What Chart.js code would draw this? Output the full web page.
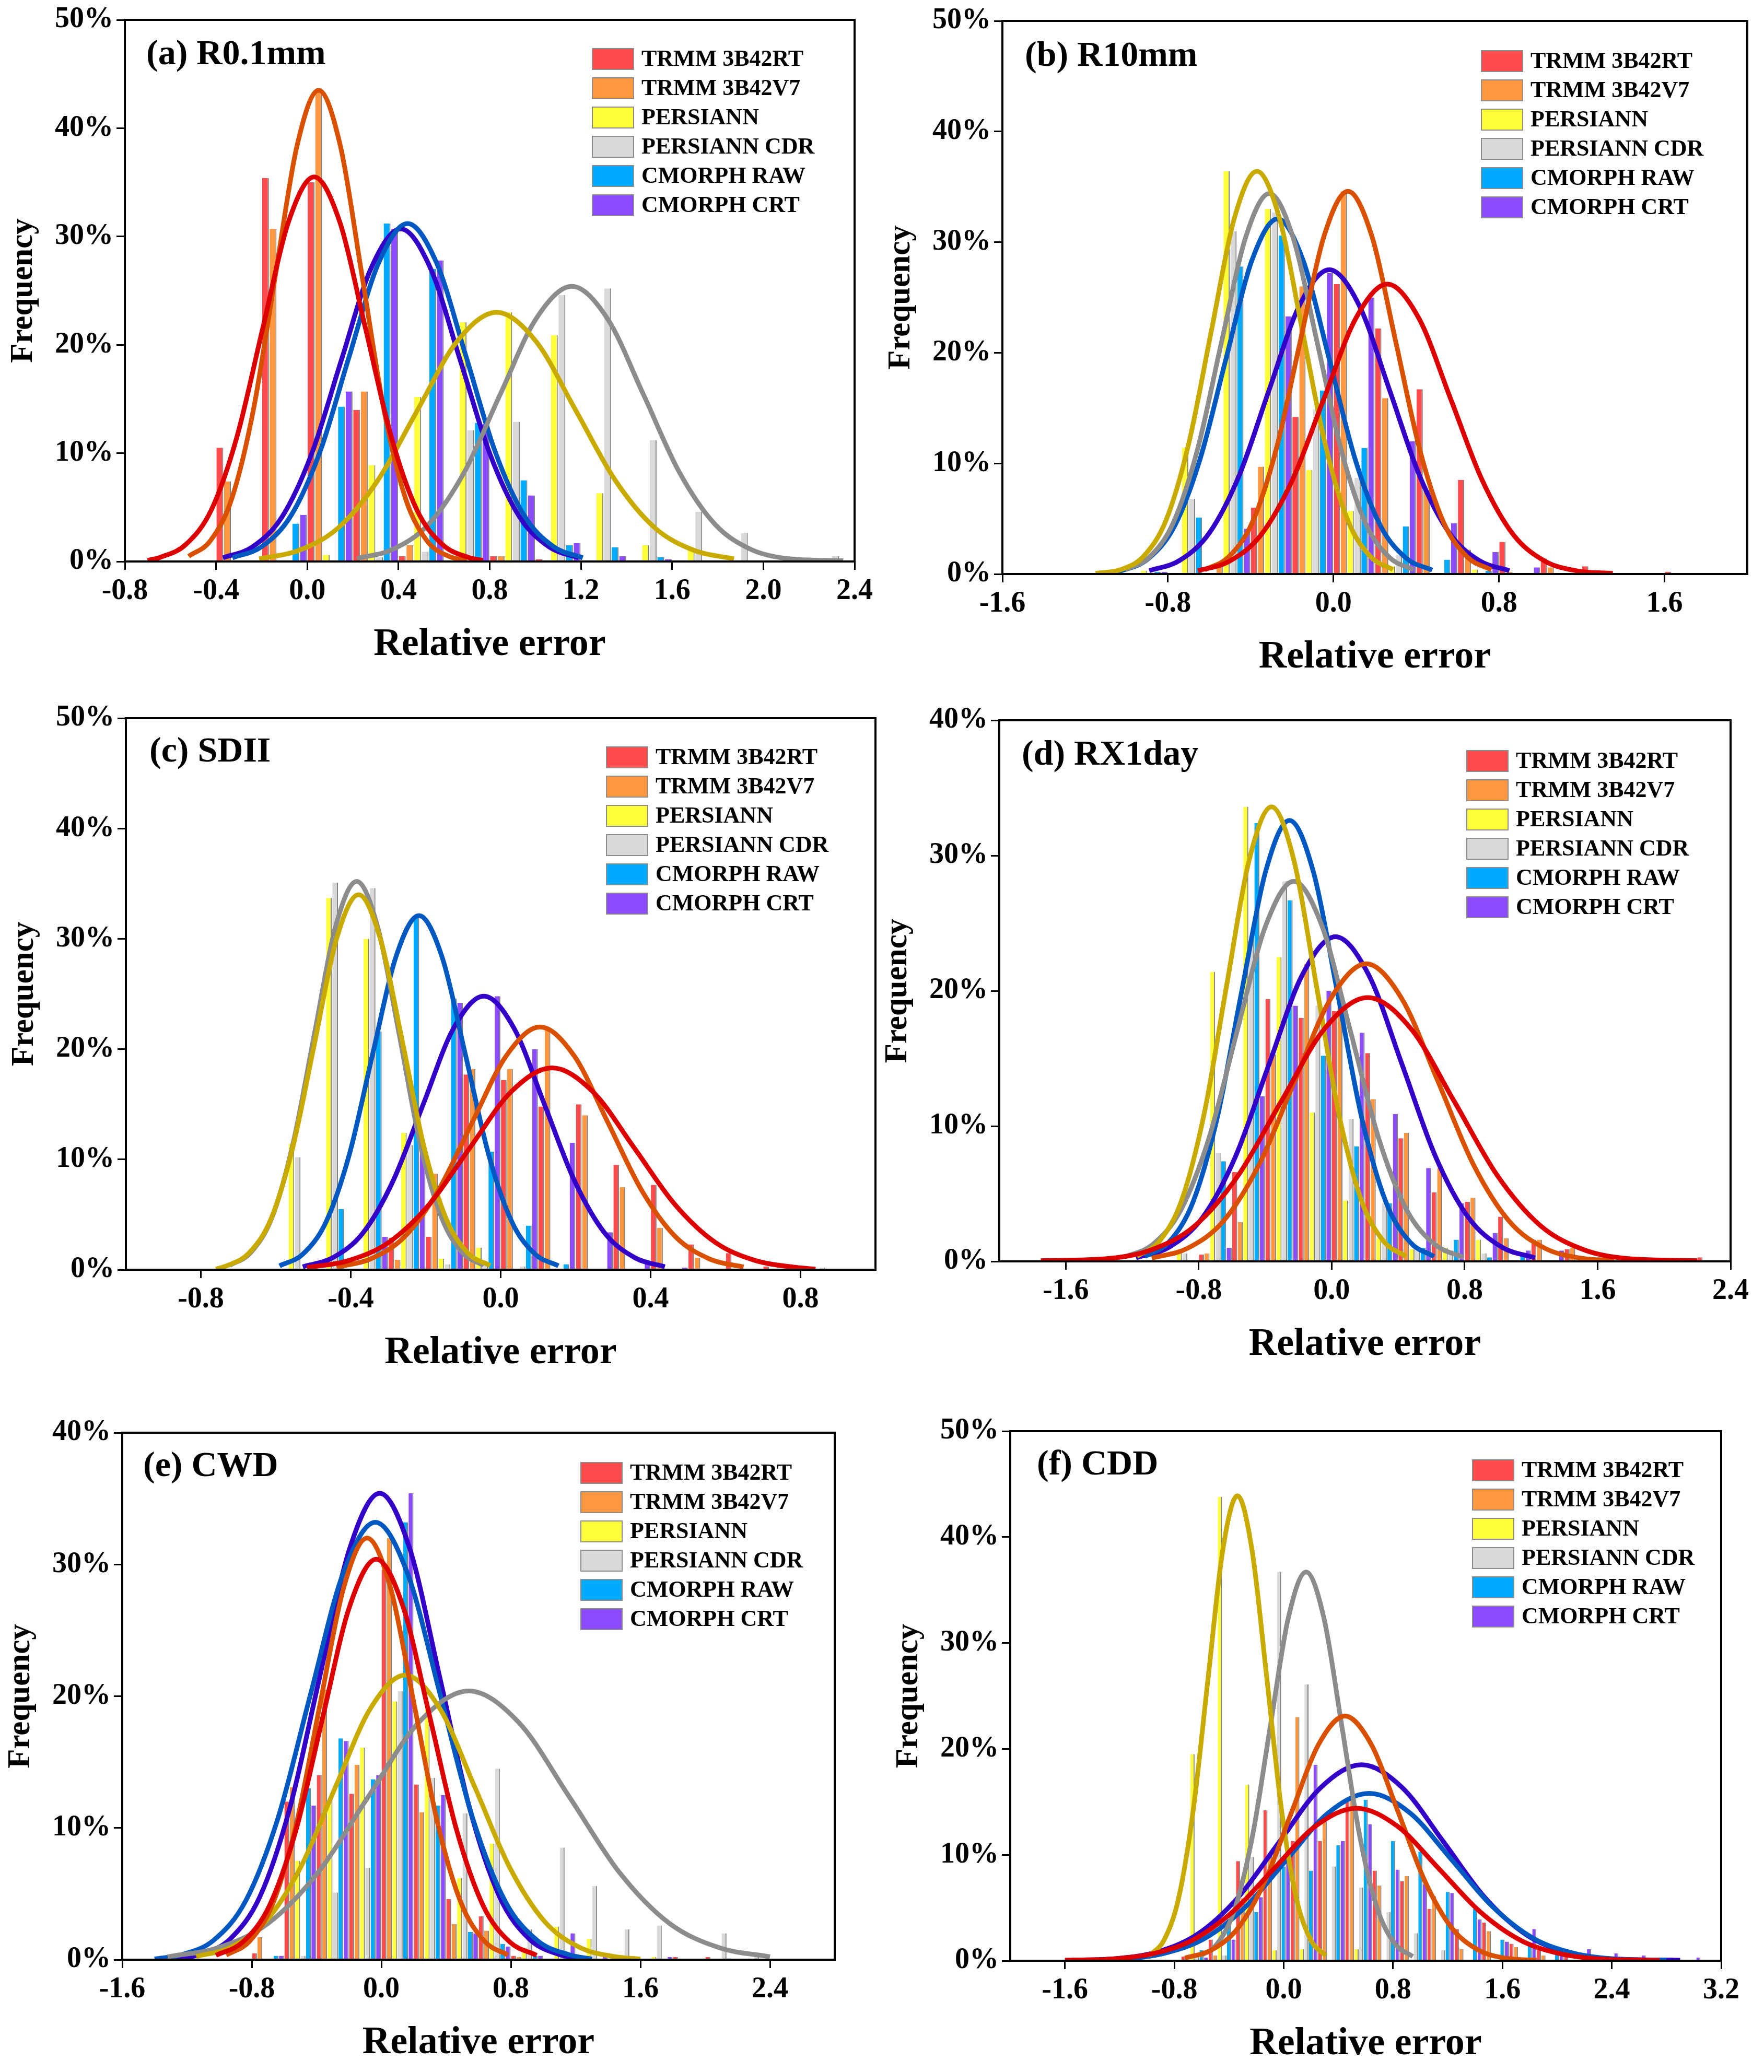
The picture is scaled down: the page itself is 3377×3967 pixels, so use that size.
<!DOCTYPE html>
<html>
<head>
<meta charset="utf-8">
<script src="https://cdn.jsdelivr.net/npm/chart.js@4.4.1/dist/chart.umd.min.js"></script>
<style>
  body { margin: 0; background: #fff; width: 3377px; height: 3967px; position: relative; overflow: hidden; }
  canvas { position: absolute; }
</style>
</head>
<body>
<script>
// series shared by all six panels
const seriesNames = ['TRMM 3B42RT', 'TRMM 3B42V7', 'PERSIANN', 'PERSIANN CDR', 'CMORPH RAW', 'CMORPH CRT'];
const barColors = ['#ff4b4b', '#ff9640', '#ffff3c', '#d9d9d9', '#00aaff', '#8b4bff'];
const fitColors = ['#dc0000', '#d95000', '#c8aa00', '#8c8c8c', '#0058c0', '#3300c8'];

const yTicks50 = [0, 10, 20, 30, 40, 50];
const yTicks40 = [0, 10, 20, 30, 40];

// (a) R0.1mm
const xTicksA = [-0.8, -0.4, 0.0, 0.4, 0.8, 1.2, 1.6, 2.0, 2.4];
const binsA = [-0.3, -0.1, 0.1, 0.3, 0.5, 0.7, 0.9, 1.1, 1.3, 1.5, 1.7, 1.9, 2.1, 2.3];
const rtA  = [10.5, 35.4, 35.0, 14.0, 0.5, 0, 0.5, 0.2, 0, 0, 0, 0, 0, 0];
const v7A  = [7.4, 30.7, 43.5, 15.7, 1.5, 0, 0.5, 0, 0, 0, 0, 0, 0, 0];
const perA = [0, 0, 0.6, 8.9, 15.2, 22.1, 23.0, 20.9, 6.3, 1.5, 1.1, 0, 0, 0];
const cdrA = [0, 0, 0, 0.4, 0.9, 12.1, 12.9, 24.6, 25.2, 11.2, 4.6, 2.6, 0.2, 0.5];
const rawA = [0, 3.5, 14.3, 31.2, 27.0, 12.8, 7.5, 1.5, 1.3, 0.4, 0, 0, 0, 0];
const crtA = [0.1, 4.3, 15.7, 30.7, 27.8, 12.7, 6.1, 1.7, 0.5, 0.2, 0, 0, 0, 0];
const rtFitA  = [[-0.7,0.1],[-0.645,0.39],[-0.533,1.56],[-0.42,4.79],[-0.308,11.54],[-0.195,21.55],[-0.083,31.31],[0.03,35.5],[0.143,31.31],[0.255,21.55],[0.368,11.54],[0.48,4.79],[0.593,1.56],[0.705,0.39],[0.77,0.1]];
const v7FitA  = [[-0.52,0.48],[-0.425,1.91],[-0.33,5.87],[-0.235,14.14],[-0.14,26.4],[-0.045,38.37],[0.05,43.5],[0.145,38.37],[0.24,26.4],[0.335,14.14],[0.43,5.87],[0.525,1.91],[0.62,0.48],[0.7,0.1]];
const perFitA = [[-0.211,0.25],[-0.038,1.01],[0.136,3.11],[0.309,7.48],[0.483,13.96],[0.656,20.29],[0.83,23],[1.004,20.29],[1.177,13.96],[1.351,7.48],[1.524,3.11],[1.698,1.01],[1.871,0.25]];
const cdrFitA = [[0.218,0.28],[0.375,1.12],[0.532,3.43],[0.689,8.26],[0.846,15.42],[1.003,22.4],[1.16,25.4],[1.317,22.4],[1.474,15.42],[1.631,8.26],[1.788,3.43],[1.945,1.12],[2.102,0.28],[2.35,0.07]];
const rawFitA = [[-0.328,0.34],[-0.2,1.37],[-0.072,4.21],[0.056,10.14],[0.184,18.94],[0.312,27.52],[0.44,31.2],[0.568,27.52],[0.696,18.94],[0.824,10.14],[0.952,4.21],[1.08,1.37],[1.208,0.34]];
const crtFitA = [[-0.37,0.34],[-0.24,1.35],[-0.11,4.14],[0.02,9.98],[0.15,18.63],[0.28,27.08],[0.41,30.7],[0.54,27.08],[0.67,18.63],[0.8,9.98],[0.93,4.14],[1.06,1.35],[1.19,0.34]];

// (b) R10mm
const xTicksB = [-1.6, -0.8, 0.0, 0.8, 1.6];
const binsB = [-0.9, -0.7, -0.5, -0.3, -0.1, 0.1, 0.3, 0.5, 0.7, 0.9, 1.1, 1.3, 1.5, 1.7];
const rtB  = [0, 0, 0, 6.0, 14.2, 26.2, 22.2, 16.7, 8.5, 2.9, 1.4, 0.7, 0, 0.2];
const v7B  = [0, 0, 0.7, 9.7, 26.0, 34.6, 15.9, 7.6, 2.2, 0.2, 0.6, 0, 0, 0];
const perB = [0.3, 11.4, 36.4, 33.0, 9.4, 5.7, 0.7, 0, 0.4, 0, 0, 0, 0, 0];
const cdrB = [0, 6.8, 31.0, 32.7, 14.9, 8.7, 1.7, 0, 0, 0, 0, 0, 0, 0];
const rawB = [0.2, 5.1, 27.8, 30.6, 16.6, 11.4, 4.3, 1.3, 0.3, 0, 0, 0, 0, 0];
const crtB = [0.2, 0, 4.1, 23.3, 27.2, 25.0, 12.0, 4.6, 2.0, 0.6, 0, 0, 0, 0];
const rtFitB  = [[-0.655,0.29],[-0.503,1.15],[-0.35,3.54],[-0.198,8.52],[-0.045,15.9],[0.108,23.11],[0.26,26.2],[0.413,23.11],[0.565,15.9],[0.718,8.52],[0.87,3.54],[1.023,1.15],[1.175,0.29],[1.35,0.05]];
const v7FitB  = [[-0.623,0.38],[-0.508,1.52],[-0.392,4.67],[-0.277,11.25],[-0.161,21.0],[-0.046,30.52],[0.07,34.6],[0.186,30.52],[0.301,21.0],[0.417,11.25],[0.532,4.67],[0.648,1.52],[0.763,0.38]];
const perFitB = [[-1.15,0.05],[-1.027,0.4],[-0.918,1.6],[-0.808,4.91],[-0.699,11.83],[-0.589,22.09],[-0.48,32.1],[-0.37,36.4],[-0.26,32.1],[-0.151,22.09],[-0.041,11.83],[0.068,4.91],[0.178,1.6],[0.287,0.4]];
const cdrFitB = [[-1.006,0.38],[-0.89,1.51],[-0.774,4.64],[-0.658,11.18],[-0.542,20.88],[-0.426,30.34],[-0.31,34.4],[-0.194,30.34],[-0.078,20.88],[0.038,11.18],[0.154,4.64],[0.27,1.51],[0.386,0.38]];
const rawFitB = [[-1.12,0.05],[-1.017,0.35],[-0.893,1.41],[-0.768,4.33],[-0.644,10.43],[-0.519,19.48],[-0.395,28.31],[-0.27,32.1],[-0.146,28.31],[-0.021,19.48],[0.104,10.43],[0.228,4.33],[0.353,1.41],[0.477,0.35]];
const crtFitB = [[-0.89,0.3],[-0.745,1.21],[-0.6,3.71],[-0.455,8.94],[-0.31,16.69],[-0.165,24.26],[-0.02,27.5],[0.125,24.26],[0.27,16.69],[0.415,8.94],[0.56,3.71],[0.705,1.21],[0.85,0.3]];

// (c) SDII
const xTicksC = [-0.8, -0.4, 0.0, 0.4, 0.8];
const binsC = [-0.55, -0.45, -0.35, -0.25, -0.15, -0.05, 0.05, 0.15, 0.25, 0.35, 0.45, 0.55, 0.65, 0.75, 0.85];
const rtC  = [0, 0, 0, 2.9, 3.0, 17.7, 17.2, 14.8, 15.0, 9.5, 7.7, 2.3, 1.5, 0.3, 0];
const v7C  = [0, 0, 0, 0.9, 8.7, 18.2, 18.2, 21.8, 14.0, 7.5, 3.8, 1.1, 0, 0, 0];
const perC = [11.4, 33.7, 30.0, 12.4, 1.0, 2.0, 0, 0, 0, 0, 0, 0, 0, 0, 0];
const cdrC = [10.2, 35.1, 34.6, 11.3, 0.5, 0.5, 0.3, 0, 0, 0, 0, 0, 0, 0, 0.2];
const rawC = [0, 5.5, 21.6, 32.0, 24.6, 10.7, 4.0, 0.5, 0.1, 0, 0, 0, 0, 0, 0];
const crtC = [0, 0, 3.0, 11.5, 24.2, 24.8, 20.0, 11.5, 3.4, 0.7, 0.2, 0, 0, 0, 0];
const rtFitC  = [[-0.517,0.2],[-0.408,0.81],[-0.299,2.47],[-0.19,5.95],[-0.081,11.11],[0.028,16.14],[0.137,18.3],[0.246,16.14],[0.355,11.11],[0.464,5.95],[0.573,2.47],[0.682,0.81],[0.791,0.2],[0.84,0.05]];
const v7FitC  = [[-0.438,0.24],[-0.348,0.97],[-0.257,2.97],[-0.167,7.15],[-0.076,13.35],[0.015,19.4],[0.105,22],[0.196,19.4],[0.286,13.35],[0.377,7.15],[0.467,2.97],[0.558,0.97],[0.648,0.24]];
const perFitC = [[-0.76,0.05],[-0.73,0.37],[-0.672,1.5],[-0.613,4.59],[-0.555,11.05],[-0.496,20.64],[-0.438,29.99],[-0.379,34],[-0.321,29.99],[-0.262,20.64],[-0.204,11.05],[-0.145,4.59],[-0.087,1.5],[-0.028,0.37]];
const cdrFitC = [[-0.723,0.39],[-0.667,1.55],[-0.61,4.75],[-0.554,11.44],[-0.497,21.37],[-0.441,31.05],[-0.384,35.2],[-0.328,31.05],[-0.271,21.37],[-0.215,11.44],[-0.158,4.75],[-0.102,1.55],[-0.045,0.39]];
const rawFitC = [[-0.59,0.35],[-0.528,1.41],[-0.466,4.33],[-0.404,10.43],[-0.342,19.48],[-0.28,28.31],[-0.218,32.1],[-0.156,28.31],[-0.094,19.48],[-0.032,10.43],[0.03,4.33],[0.092,1.41],[0.154,0.35]];
const crtFitC = [[-0.528,0.27],[-0.448,1.09],[-0.367,3.35],[-0.287,8.06],[-0.206,15.05],[-0.126,21.87],[-0.045,24.8],[0.036,21.87],[0.116,15.05],[0.197,8.06],[0.277,3.35],[0.358,1.09],[0.438,0.27]];

// (d) RX1day
const xTicksD = [-1.6, -0.8, 0.0, 0.8, 1.6, 2.4];
const binsD = [-1.1, -0.9, -0.7, -0.5, -0.3, -0.1, 0.1, 0.3, 0.5, 0.7, 0.9, 1.1, 1.3, 1.5, 1.7, 1.9, 2.1, 2.3];
const rtD  = [0, 0, 0.5, 6.6, 19.4, 18.0, 18.5, 15.4, 9.1, 5.1, 4.4, 3.3, 1.6, 0.9, 0.3, 0, 0, 0.3];
const v7D  = [0, 0, 0.6, 2.9, 15.3, 22.0, 19.4, 12.0, 9.5, 6.9, 4.7, 1.7, 1.6, 1.0, 0.3, 0, 0, 0];
const perD = [0, 0.8, 21.4, 33.6, 22.5, 11.0, 4.5, 1.7, 0.9, 1.0, 1.6, 0, 0, 0, 0, 0, 0, 0];
const cdrD = [0, 0.6, 8.0, 24.0, 28.1, 18.9, 10.5, 4.3, 0.8, 0.8, 0.6, 0, 0, 0, 0, 0, 0, 0];
const rawD = [0, 0, 7.4, 32.4, 26.7, 15.2, 8.5, 4.3, 1.0, 1.6, 0.3, 0.5, 0, 0, 0, 0, 0, 0];
const crtD = [0, 0, 1.0, 12.2, 18.9, 20.0, 16.9, 10.9, 6.9, 4.3, 2.1, 0.8, 0.8, 0, 0.3, 0, 0, 0];
const rtFitD  = [[-1.75,0.05],[-1.343,0.21],[-1.083,0.86],[-0.823,2.63],[-0.563,6.34],[-0.303,11.84],[-0.043,17.2],[0.217,19.5],[0.477,17.2],[0.737,11.84],[0.997,6.34],[1.257,2.63],[1.517,0.86],[1.777,0.21],[2.2,0.05]];
const v7FitD  = [[-1.082,0.24],[-0.867,0.97],[-0.652,2.97],[-0.437,7.15],[-0.222,13.35],[-0.007,19.4],[0.208,22],[0.423,19.4],[0.638,13.35],[0.853,7.15],[1.068,2.97],[1.283,0.97],[1.498,0.24],[1.7,0.05]];
const perFitD = [[-1.172,0.37],[-1.037,1.48],[-0.902,4.54],[-0.767,10.92],[-0.632,20.4],[-0.497,29.64],[-0.362,33.6],[-0.227,29.64],[-0.092,20.4],[0.043,10.92],[0.178,4.54],[0.313,1.48],[0.448,0.37]];
const cdrFitD = [[-1.248,0.31],[-1.078,1.24],[-0.908,3.79],[-0.738,9.13],[-0.568,17.06],[-0.398,24.78],[-0.228,28.1],[-0.058,24.78],[0.112,17.06],[0.282,9.13],[0.452,3.79],[0.622,1.24],[0.792,0.31]];
const rawFitD = [[-1.124,0.36],[-0.979,1.43],[-0.834,4.4],[-0.689,10.6],[-0.544,19.79],[-0.399,28.75],[-0.254,32.6],[-0.109,28.75],[0.036,19.79],[0.181,10.6],[0.326,4.4],[0.471,1.43],[0.616,0.36]];
const crtFitD = [[-1.177,0.26],[-0.977,1.06],[-0.777,3.24],[-0.577,7.8],[-0.377,14.57],[-0.177,21.17],[0.023,24],[0.223,21.17],[0.423,14.57],[0.623,7.8],[0.823,3.24],[1.023,1.06],[1.223,0.26]];

// (e) CWD
const xTicksE = [-1.6, -0.8, 0.0, 0.8, 1.6, 2.4];
const binsE = [-0.7, -0.5, -0.3, -0.1, 0.1, 0.3, 0.5, 0.7, 0.9, 1.1, 1.3, 1.5, 1.7, 1.9, 2.1, 2.3];
const rtE  = [0.5, 12.0, 14.0, 12.6, 29.6, 13.3, 4.6, 3.3, 0.3, 0, 0, 0, 0, 0.2, 0.2, 0];
const v7E  = [1.7, 13.1, 20.5, 14.8, 32.0, 11.2, 2.7, 2.2, 0.2, 0, 0, 0, 0, 0, 0, 0];
const perE = [0, 7.5, 12.1, 16.1, 19.6, 19.0, 6.2, 8.8, 0.9, 2.5, 1.6, 0, 0.2, 0, 0, 0];
const cdrE = [0, 0.3, 5.1, 7.0, 20.4, 13.8, 11.1, 14.5, 2.3, 8.5, 5.6, 2.3, 2.6, 0, 2.0, 0.5];
const rawE = [0.3, 13.0, 16.8, 13.7, 33.2, 11.7, 2.1, 1.2, 0.3, 0, 0, 0, 0, 0, 0.1, 0];
const crtE = [0.3, 11.7, 16.6, 14.0, 35.4, 12.5, 2.0, 1.0, 0.3, 2.0, 0.4, 0, 0.2, 0, 0, 0];
const rtFitE  = [[-1.021,0.33],[-0.856,1.34],[-0.691,4.1],[-0.526,9.88],[-0.361,18.45],[-0.196,26.81],[-0.031,30.4],[0.134,26.81],[0.299,18.45],[0.464,9.88],[0.629,4.1],[0.794,1.34],[0.959,0.33]];
const v7FitE  = [[-0.958,0.35],[-0.813,1.41],[-0.668,4.32],[-0.523,10.4],[-0.378,19.42],[-0.233,28.22],[-0.088,32],[0.057,28.22],[0.202,19.42],[0.347,10.4],[0.492,4.32],[0.637,1.41],[0.782,0.35]];
const perFitE = [[-1.143,0.24],[-0.928,0.95],[-0.713,2.92],[-0.498,7.02],[-0.283,13.11],[-0.068,19.05],[0.147,21.6],[0.362,19.05],[0.577,13.11],[0.792,7.02],[1.007,2.92],[1.222,0.95],[1.437,0.24],[1.6,0.05]];
const cdrFitE = [[-1.32,0.22],[-1.01,0.9],[-0.7,2.75],[-0.39,6.63],[-0.08,12.38],[0.23,17.99],[0.54,20.4],[0.85,17.99],[1.16,12.38],[1.47,6.63],[1.78,2.75],[2.09,0.9],[2.4,0.22]];
const rawFitE = [[-1.4,0.05],[-1.237,0.37],[-1.037,1.46],[-0.837,4.48],[-0.637,10.79],[-0.437,20.15],[-0.237,29.28],[-0.037,33.2],[0.163,29.28],[0.363,20.15],[0.563,10.79],[0.763,4.48],[0.963,1.46],[1.163,0.37],[1.3,0.05]];
const crtFitE = [[-1.3,0.05],[-1.12,0.39],[-0.935,1.56],[-0.75,4.78],[-0.565,11.51],[-0.38,21.49],[-0.195,31.22],[-0.01,35.4],[0.175,31.22],[0.36,21.49],[0.545,11.51],[0.73,4.78],[0.915,1.56],[1.1,0.39],[1.25,0.05]];

// (f) CDD
const xTicksF = [-1.6, -0.8, 0.0, 0.8, 1.6, 2.4, 3.2];
const binsF = [-1.25, -1.05, -0.85, -0.65, -0.45, -0.25, -0.05, 0.15, 0.35, 0.55, 0.75, 0.95, 1.15, 1.35, 1.55, 1.75, 1.95, 2.15, 2.35, 2.55, 2.75, 2.95];
const rtF  = [0, 0, 0, 0.4, 2.0, 9.4, 14.2, 11.3, 11.3, 15.1, 8.5, 7.5, 4.9, 3.0, 3.6, 1.6, 1.0, 0.5, 0.3, 0, 0, 0];
const v7F  = [0, 0, 0, 0, 0.5, 5.9, 10.2, 23.0, 13.4, 15.2, 7.1, 8.0, 6.1, 1.1, 2.8, 1.3, 0.5, 0, 0, 0, 0, 0];
const perF = [0, 0, 0, 19.5, 43.8, 16.6, 1.0, 1.1, 0, 1.1, 0, 0, 0, 0, 0, 0, 0, 0, 0, 0, 0, 0];
const cdrF = [0, 0, 0, 0.5, 0.5, 9.8, 36.7, 26.1, 8.9, 6.9, 4.6, 2.6, 1.0, 0, 0, 0, 0, 0, 0, 0, 0, 0];
const rawF = [0, 0, 0, 1.0, 3.9, 4.6, 8.9, 8.5, 10.9, 15.2, 11.3, 10.3, 6.5, 4.9, 2.0, 1.5, 0.6, 0, 0.3, 0, 0, 0];
const crtF = [0.2, 0, 0, 0.3, 2.0, 6.0, 9.8, 18.5, 11.3, 12.9, 8.6, 7.2, 6.4, 3.9, 1.8, 3.0, 1.0, 1.1, 0.7, 0.5, 0.3, 0.3];
const rtFitF  = [[-1.6,0.05],[-1.268,0.16],[-0.968,0.63],[-0.668,1.94],[-0.368,4.68],[-0.068,8.74],[0.232,12.7],[0.532,14.4],[0.832,12.7],[1.132,8.74],[1.432,4.68],[1.732,1.94],[2.032,0.63],[2.332,0.16],[2.75,0.05]];
const v7FitF  = [[-0.722,0.25],[-0.527,1.02],[-0.332,3.12],[-0.137,7.51],[0.058,14.02],[0.253,20.37],[0.448,23.1],[0.643,20.37],[0.838,14.02],[1.033,7.51],[1.228,3.12],[1.423,1.02],[1.618,0.25],[1.85,0.05]];
const perFitF = [[-0.983,0.48],[-0.876,1.93],[-0.768,5.93],[-0.661,14.27],[-0.553,26.65],[-0.446,38.72],[-0.338,43.9],[-0.231,38.72],[-0.123,26.65],[-0.016,14.27],[0.092,5.93],[0.2,1.93],[0.307,0.48]];
const cdrFitF = [[-0.616,0.4],[-0.486,1.61],[-0.356,4.95],[-0.226,11.93],[-0.096,22.28],[0.034,32.37],[0.164,36.7],[0.294,32.37],[0.424,22.28],[0.554,11.93],[0.684,4.95],[0.814,1.61],[0.944,0.4]];
const rawFitF = [[-1.5,0.05],[-1.175,0.17],[-0.875,0.7],[-0.575,2.13],[-0.275,5.14],[0.025,9.59],[0.325,13.94],[0.625,15.8],[0.925,13.94],[1.225,9.59],[1.525,5.14],[1.825,2.13],[2.125,0.7],[2.425,0.17],[2.8,0.05]];
const crtFitF = [[-1.55,0.05],[-1.231,0.2],[-0.931,0.81],[-0.631,2.5],[-0.331,6.01],[-0.031,11.23],[0.269,16.32],[0.569,18.5],[0.869,16.32],[1.169,11.23],[1.469,6.01],[1.769,2.5],[2.069,0.81],[2.369,0.2],[2.9,0.05]];

// layout of each panel: plot-area box in page pixels, legend and tag offsets inside it
const panels = [
  { tag: '(a) R0.1mm', bins: binsA, bars: [rtA, v7A, perA, cdrA, rawA, crtA], fits: [rtFitA, v7FitA, perFitA, cdrFitA, rawFitA, crtFitA],
    xMin: -0.8, xMax: 2.4, xTicks: xTicksA, yMax: 50, yTicks: yTicks50, area: [239, 38, 1636, 1075], legend: [895, 55], tagPos: [41, 85] },
  { tag: '(b) R10mm', bins: binsB, bars: [rtB, v7B, perB, cdrB, rawB, crtB], fits: [rtFitB, v7FitB, perFitB, cdrFitB, rawFitB, crtFitB],
    xMin: -1.6, xMax: 2.0, xTicks: xTicksB, yMax: 50, yTicks: yTicks50, area: [1919, 40, 3345, 1099], legend: [917, 57], tagPos: [43, 86] },
  { tag: '(c) SDII', bins: binsC, bars: [rtC, v7C, perC, cdrC, rawC, crtC], fits: [rtFitC, v7FitC, perFitC, cdrFitC, rawFitC, crtFitC],
    xMin: -1.0, xMax: 1.0, xTicks: xTicksC, yMax: 50, yTicks: yTicks50, area: [241, 1375, 1676, 2431], legend: [920, 55], tagPos: [45, 83] },
  { tag: '(d) RX1day', bins: binsD, bars: [rtD, v7D, perD, cdrD, rawD, crtD], fits: [rtFitD, v7FitD, perFitD, cdrFitD, rawFitD, crtFitD],
    xMin: -2.0, xMax: 2.4, xTicks: xTicksD, yMax: 40, yTicks: yTicks40, area: [1913, 1379, 3313, 2415], legend: [895, 58], tagPos: [43, 85] },
  { tag: '(e) CWD', bins: binsE, bars: [rtE, v7E, perE, cdrE, rawE, crtE], fits: [rtFitE, v7FitE, perFitE, cdrFitE, rawFitE, crtFitE],
    xMin: -1.6, xMax: 2.8, xTicks: xTicksE, yMax: 40, yTicks: yTicks40, area: [234, 2743, 1598, 3752], legend: [878, 57], tagPos: [40, 83] },
  { tag: '(f) CDD', bins: binsF, bars: [rtF, v7F, perF, cdrF, rawF, crtF], fits: [rtFitF, v7FitF, perFitF, cdrFitF, rawFitF, crtFitF],
    xMin: -2.0, xMax: 3.2, xTicks: xTicksF, yMax: 50, yTicks: yTicks50, area: [1934, 2740, 3295, 3754], legend: [885, 55], tagPos: [51, 83] }
];

const Y_W = 234, X_H = 197, PAD_T = 40, PAD_R = 70;
const serif = '"Liberation Serif", "Times New Roman", serif';
Chart.defaults.font.family = serif;
Chart.defaults.color = '#000';

// frame box, panel tag and legend drawn inside the plot area
const decor = {
  id: 'decor',
  afterDraw(chart, args, opts) {
    const { ctx, chartArea: a } = chart;
    ctx.save();
    ctx.strokeStyle = '#000';
    ctx.lineWidth = 4;
    ctx.strokeRect(a.left, a.top, a.right - a.left, a.bottom - a.top);
    ctx.fillStyle = '#000';
    ctx.font = 'bold 68px ' + serif;
    ctx.textBaseline = 'alphabetic';
    ctx.fillText(opts.tag, a.left + opts.tagPos[0], a.top + opts.tagPos[1]);
    ctx.font = 'bold 44px ' + serif;
    ctx.textBaseline = 'middle';
    seriesNames.forEach((name, i) => {
      const x = a.left + opts.legend[0], y = a.top + opts.legend[1] + i * 56;
      ctx.fillStyle = barColors[i];
      ctx.fillRect(x, y, 79, 40);
      ctx.strokeStyle = '#8c8c8c';
      ctx.lineWidth = 2;
      ctx.strokeRect(x, y, 79, 40);
      ctx.fillStyle = '#000';
      ctx.fillText(name, x + 94, y + 22);
    });
    ctx.restore();
  }
};

panels.forEach(p => {
  const [l, t, r, b] = p.area;
  const w = Y_W + (r - l) + PAD_R, h = PAD_T + (b - t) + X_H;
  const cv = document.createElement('canvas');
  cv.width = w; cv.height = h;
  cv.style.left = (l - Y_W) + 'px';
  cv.style.top = (t - PAD_T) + 'px';
  cv.style.width = w + 'px';
  cv.style.height = h + 'px';
  document.body.appendChild(cv);

  const datasets = [];
  p.fits.forEach((f, i) => datasets.push({
    type: 'line', label: seriesNames[i] + ' fit',
    data: f.map(([x, y]) => ({ x, y })),
    borderColor: fitColors[i], borderWidth: 9, pointRadius: 0,
    cubicInterpolationMode: 'monotone', fill: false, order: 1
  }));
  p.bars.forEach((vals, i) => datasets.push({
    type: 'bar', label: seriesNames[i],
    data: p.bins.map((c, j) => ({ x: c, y: vals[j] })),
    backgroundColor: barColors[i], borderColor: '#808080',
    borderWidth: { top: 0, right: 2, bottom: 0, left: 0 },
    barPercentage: 0.9, categoryPercentage: 1.0, order: 2
  }));

  const axisGrid = { display: true, drawOnChartArea: false, drawTicks: true, tickLength: 16, color: '#000', lineWidth: 3, offset: false };
  const axisBorder = { display: true, color: '#000', width: 4 };

  new Chart(cv, {
    type: 'bar',
    data: { datasets },
    plugins: [decor],
    options: {
      responsive: false, animation: false, devicePixelRatio: 1,
      layout: { padding: { top: PAD_T, right: PAD_R, left: 0, bottom: 0 } },
      plugins: {
        legend: { display: false }, tooltip: { enabled: false },
        decor: { tag: p.tag, tagPos: p.tagPos, legend: p.legend }
      },
      scales: {
        x: {
          type: 'linear', min: p.xMin, max: p.xMax, offset: false,
          afterBuildTicks: ax => { ax.ticks = p.xTicks.map(v => ({ value: v })); },
          afterFit: ax => { ax.height = X_H; },
          grid: axisGrid, border: axisBorder,
          ticks: { font: { size: 56, weight: 'bold' }, padding: 8, maxRotation: 0, autoSkip: false,
                   callback: v => Number(v).toFixed(1) },
          title: { display: true, text: 'Relative error', font: { size: 74, weight: 'bold', lineHeight: 1 }, padding: { top: 0, bottom: 0 } }
        },
        y: {
          type: 'linear', min: 0, max: p.yMax,
          afterBuildTicks: ax => { ax.ticks = p.yTicks.map(v => ({ value: v })); },
          afterFit: ax => { ax.width = Y_W; },
          grid: axisGrid, border: axisBorder,
          ticks: { font: { size: 56, weight: 'bold' }, padding: 6, callback: v => v + '%' },
          title: { display: true, text: 'Frequency', font: { size: 61, weight: 'bold', lineHeight: 1 }, padding: { top: 10, bottom: 0 } }
        }
      }
    }
  });
});
</script>
</body>
</html>
